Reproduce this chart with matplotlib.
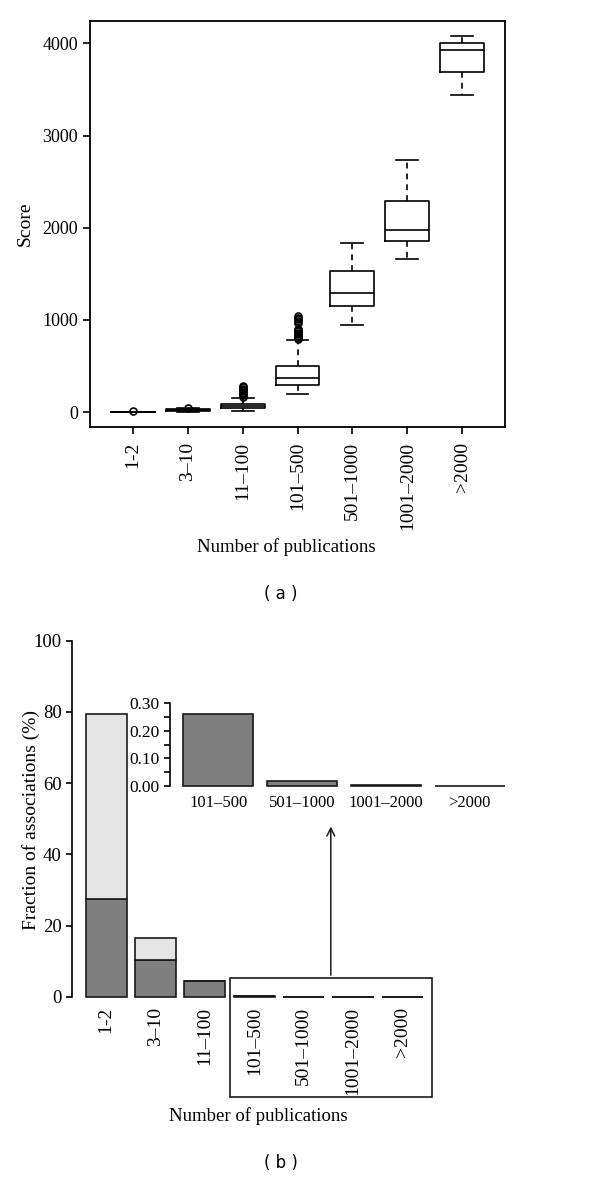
import numpy as np
import matplotlib.pyplot as plt
from matplotlib.patches import Rectangle

plt.rcParams['font.family'] = ['Liberation Serif', 'DejaVu Serif']

# ---- data, panel (a): score per publication-count group
Groups = ['1-2', '3–10', '11–100', '101–500', '501–1000', '1001–2000', '>2000']
WhisLo = [0, 3, 15, 195, 942, 1656, 3437]
Q1 = [0, 10, 40, 292, 1154, 1857, 3686]
Median = [1, 18, 60, 364, 1294, 1970, 3929]
Q3 = [2, 28, 88, 494, 1529, 2287, 4000]
WhisHi = [4, 40, 152, 779, 1835, 2734, 4076]
Outliers = [[10],
            [45],
            [165, 180, 195, 210, 225, 240, 255, 270, 285],
            [790, 800, 815, 830, 845, 860, 875, 890, 905, 965, 985, 1005, 1025, 1045],
            [], [], []]

# ---- data, panel (b): fraction of associations (%)
DarkPart = [27.4, 10.4, 4.3, 0.26, 0.02, 0.006, 0.001]
LightPart = [51.9, 6.0, 0.0, 0.0, 0.0, 0.0, 0.0]
InsetGroups = Groups[3:]
InsetValues = DarkPart[3:]

DarkGrey = '#7f7f7f'
LightGrey = '#e5e5e5'
EdgeCol = '#1a1a1a'

fig = plt.figure(figsize=(6, 11.79), dpi=100)

# ---------------- panel (a)
axA = fig.add_axes([0.15, 0.6378, 0.6917, 0.3444])
stats = []
for i in range(len(Groups)):
    stats.append({'whislo': WhisLo[i], 'q1': Q1[i], 'med': Median[i],
                  'q3': Q3[i], 'whishi': WhisHi[i], 'fliers': Outliers[i]})
pos = np.arange(1, len(Groups) + 1)
lineStyle = {'color': 'black', 'linewidth': 1.2}
axA.bxp(stats, positions=pos, widths=0.8, showfliers=True,
        boxprops=lineStyle, medianprops=lineStyle,
        whiskerprops={'color': 'black', 'linewidth': 1.2, 'linestyle': (0, (3.5, 3))},
        capprops=lineStyle, capwidths=0.4,
        flierprops={'marker': 'o', 'markersize': 5, 'markerfacecolor': 'none',
                    'markeredgecolor': 'black', 'markeredgewidth': 1.2})
axA.set_xlim(0.22, 7.78)
axA.set_ylim(-163, 4243)
axA.set_yticks([0, 1000, 2000, 3000, 4000])
axA.set_xticks(pos)
axA.set_xticklabels(Groups, rotation=90, fontsize=14)
axA.tick_params(axis='y', labelsize=13, length=5, width=1.2)
axA.tick_params(axis='x', length=5, width=1.2, pad=5.5)
for s in axA.spines.values():
    s.set_linewidth(1.3)
axA.set_ylabel('Score', fontsize=14)
axA.yaxis.set_label_coords(-0.135, 0.5)
fig.text(286 / 600, 1 - 547 / 1179, 'Number of publications', ha='center',
         va='center', fontsize=13.5)
fig.text(281 / 600, 1 - 594 / 1179, '( a )', ha='center', va='center',
         fontsize=12, family='DejaVu Sans')

# ---------------- panel (b)
axB = fig.add_axes([0.12, 0.1425, 0.6075, 0.3261])
barPos = 0.7 + 1.2 * np.arange(len(Groups))
axB.bar(barPos, DarkPart, width=1, color=DarkGrey, edgecolor=EdgeCol, linewidth=1.2)
axB.bar(barPos, LightPart, width=1, bottom=DarkPart, color=LightGrey,
        edgecolor=EdgeCol, linewidth=1.2)
axB.set_xlim(-0.128, 8.728)
axB.set_ylim(-4, 104)
for side in ['top', 'right', 'bottom']:
    axB.spines[side].set_visible(False)
axB.spines['left'].set_bounds(0, 100)
axB.spines['left'].set_linewidth(1.2)
axB.set_yticks([0, 20, 40, 60, 80, 100])
axB.tick_params(axis='y', labelsize=13.5, length=4, width=1.2)
axB.set_xticks(barPos)
axB.set_xticklabels(Groups, rotation=90, fontsize=14)
axB.tick_params(axis='x', length=0, pad=-3)
axB.set_ylabel('Fraction of associations (%)', fontsize=14)
axB.yaxis.set_label_coords(-0.088, 0.497)

# box around the small bars and arrow to the zoomed inset
axB.add_patch(Rectangle((3.70, -28.3), 4.92, 33.6, fill=False, edgecolor=EdgeCol,
                        linewidth=1.2, clip_on=False))
axB.annotate('', xy=(6.16, 48.6), xytext=(6.16, 5.3),
             arrowprops={'arrowstyle': '->', 'color': EdgeCol, 'linewidth': 1.1,
                         'mutation_scale': 14})
fig.text(258 / 600, 1 - 1116 / 1179, 'Number of publications', ha='center',
         va='center', fontsize=13.5)
fig.text(281 / 600, 1 - 1163 / 1179, '( b )', ha='center', va='center',
         fontsize=12, family='DejaVu Sans')

# ---------------- inset
axI = fig.add_axes([0.2833, 0.3303, 0.58, 0.0763])
insetPos = 0.7 + 1.2 * np.arange(len(InsetGroups))
axI.bar(insetPos, InsetValues, width=1, color=DarkGrey, edgecolor=EdgeCol, linewidth=1.2)
axI.set_xlim(0.008, 4.992)
axI.set_ylim(-0.012, 0.312)
for side in ['top', 'right', 'bottom']:
    axI.spines[side].set_visible(False)
axI.spines['left'].set_bounds(0, 0.30)
axI.spines['left'].set_linewidth(1.2)
axI.set_yticks([0.0, 0.1, 0.2, 0.3])
axI.set_yticklabels(['0.00', '0.10', '0.20', '0.30'])
axI.set_yticks([0.05, 0.15, 0.25], minor=True)
axI.tick_params(axis='y', which='both', labelsize=12.5, length=4, width=1.2)
axI.set_xticks(insetPos)
axI.set_xticklabels(InsetGroups, fontsize=12)
axI.tick_params(axis='x', length=0, pad=4)
axI.patch.set_alpha(0)

fig.savefig('out.png', dpi=100)
